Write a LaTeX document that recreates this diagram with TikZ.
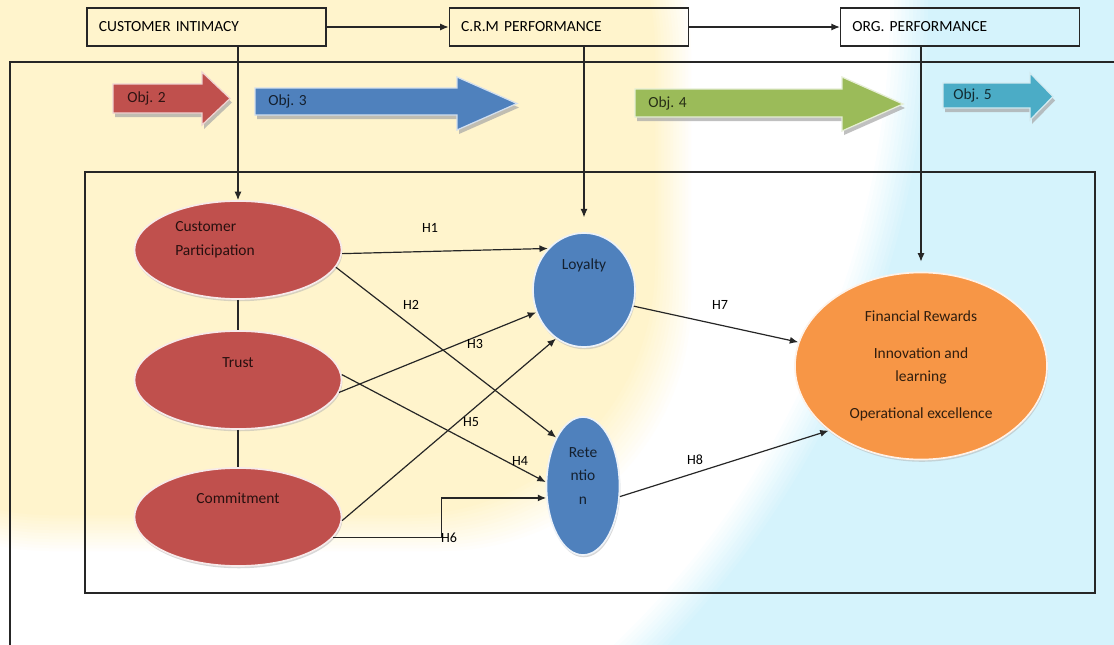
\documentclass[tikz,border=0pt]{standalone}
\usepackage{fontspec}
\setmainfont{Carlito}
\usetikzlibrary{arrows.meta,positioning,shapes.geometric,shadows}
\definecolor{objred}{HTML}{C0504D}
\definecolor{objblue}{HTML}{4F81BD}
\definecolor{objgreen}{HTML}{9BBB59}
\definecolor{objteal}{HTML}{4BACC6}
\definecolor{objorange}{HTML}{F79646}
\definecolor{bgyellow}{HTML}{FFF4CC}
\definecolor{bgcyan}{HTML}{D5F3FC}
\definecolor{frameline}{HTML}{262626}

\begin{document}
\begin{tikzpicture}[x=0.025cm, y=-0.025cm,
    topbox/.style={rectangle, draw=frameline, line width=0.8pt, minimum height=0.95cm, text width=5.375cm, inner xsep=0.3cm, align=left, font=\fontsize{11}{12}\selectfont},
    bubble/.style={ellipse, line width=1.2pt, drop shadow={shadow xshift=0.6pt, shadow yshift=-1.6pt, fill=black!30}},
    redbubble/.style={bubble, fill=objred, draw=objred!12!white, minimum width=5.175cm, minimum height=2.45cm},
    bluebubble/.style={bubble, fill=objblue, draw=objblue!10!white},
    orangebubble/.style={bubble, fill=objorange, draw=objorange!12!white},
    intext/.style={font=\fontsize{11}{17}\selectfont, align=center},
    objtext/.style={font=\fontsize{11}{12}\selectfont, anchor=west, inner sep=0pt},
    arrow/.style={-{Latex[length=6pt,width=5pt]}, line width=0.85pt, color=frameline},
    link/.style={line width=0.85pt, color=frameline},
    frame/.style={line width=0.75pt, color=frameline},
    hlab/.style={font=\fontsize{10}{12}\selectfont, inner sep=1pt}
]
\useasboundingbox (0,0) rectangle (1114,645);

% background
\begin{scope}
  \clip (0,0) rectangle (1114,645);
  \fill[bgcyan] (0,0) rectangle (1114,645);
  \foreach \i in {0,...,10}
    \fill[bgcyan!\the\numexpr 90-9*\i\relax!white] (0,0) circle[radius=23.2cm-0.095cm*\i];
  \foreach \i in {0,...,12}
    \fill[bgyellow!\the\numexpr 8+\i*92/12\relax!white, rounded corners=6.25cm] (-200,-200) rectangle (691-3*\i,551-3*\i);
\end{scope}

% frames
\draw[frame] (1114,62) -- (10,62) -- (10,645);
\draw[frame] (85,172) rectangle (1095,593);

% objective arrows
\foreach \xa/\xb/\xc/\ba/\bb/\ha/\hb/\col/\n/\tx in {
    113/202/230/84/113/72/125/objred/2/127,
    255/457/517/88/115/77/130/objblue/3/268,
    635/842/903/89/117/77/131/objgreen/4/648,
    943/1030/1053/83/108/73/120/objteal/5/953}
{
  \fill[black!35, opacity=.7, shift={(2,4)}] (\xa,\ba) -- (\xb,\ba) -- (\xb,\ha) -- (\xc,{(\ha+\hb)/2}) -- (\xb,\hb) -- (\xb,\bb) -- (\xa,\bb) -- cycle;
  \filldraw[fill=\col, draw=\col!25!white, line width=0.9pt] (\xa,\ba) -- (\xb,\ba) -- (\xb,\ha) -- (\xc,{(\ha+\hb)/2}) -- (\xb,\hb) -- (\xb,\bb) -- (\xa,\bb) -- cycle;
  \node[objtext, text=\col!25!black] (obj\n) at (\tx,{(\ba+\bb)/2}) {Obj. \n};
}

% top row
\node[topbox] (ci) at (206.5,27) {CUSTOMER INTIMACY};
\node[topbox, right=3.05cm of ci] (crm) {C.R.M PERFORMANCE};
\node[topbox, right=3.775cm of crm] (org) {ORG. PERFORMANCE};

% constructs
\node[redbubble, label={[intext, text=objred!20!black, align=left, xshift=-0.575cm, yshift=0.25cm]center:Customer\\Participation}] (cp) at (238,250) {};
\node[redbubble, label={[intext, text=objred!20!black, yshift=0.425cm]center:Trust}] (trust) at (238,380) {};
\node[redbubble, label={[intext, text=objred!20!black, yshift=0.475cm]center:Commitment}] (com) at (238,517) {};
\node[bluebubble, minimum width=2.55cm, minimum height=2.85cm, label={[intext, text=objblue!25!black, yshift=0.625cm]center:Loyalty}] (loy) at (584,290) {};
\node[bluebubble, minimum width=1.825cm, minimum height=3.45cm, label={[intext, text=objblue!25!black, yshift=0.25cm]center:Rete\\ntio\\n}] (ret) at (583,486) {};
\node[orangebubble, minimum width=6.3cm, minimum height=4.675cm, label={[intext, font=\fontsize{11}{16.4}\selectfont, text=objorange!20!black]center:Financial Rewards\\[10pt]Innovation and\\learning\\[10pt]Operational excellence}] (fin) at (921,366) {};

% top links
\draw[arrow] (ci) -- (crm);
\draw[arrow] (crm) -- (org);
\draw[arrow] (ci.south -| cp.north) -- (cp.north);
\draw[arrow, shorten >=0.37cm] (crm.south -| loy.north) -- (loy.north);
\draw[arrow, shorten >=0.25cm] (org.south -| fin.north) -- (fin.north);

% construct links
\draw[link] (cp) -- (trust);
\draw[link] (trust) -- (com);

% hypotheses
\draw[arrow] (cp.-2) -- (loy.131);
\draw[arrow] (cp.-10) -- (ret.119);
\draw[arrow] (trust.-7) -- (loy.205);
\draw[arrow] (trust.3) -- (ret.174);
\draw[arrow] (com.-2) -- (loy.240);
\draw[arrow] (com.-12) -- ++(108,0) |- (ret.198);
\draw[arrow] (loy.-18) -- (fin.169);
\draw[arrow] (ret.-16) -- (fin.215);

\node[hlab] (h1) at (430,228) {H1};
\node[hlab] (h2) at (411,305) {H2};
\node[hlab] (h3) at (475,344) {H3};
\node[hlab] (h4) at (520,461) {H4};
\node[hlab] (h5) at (471,422) {H5};
\node[hlab] (h6) at (449,538) {H6};
\node[hlab] (h7) at (720,305) {H7};
\node[hlab] (h8) at (695,460) {H8};
\end{tikzpicture}
\end{document}
